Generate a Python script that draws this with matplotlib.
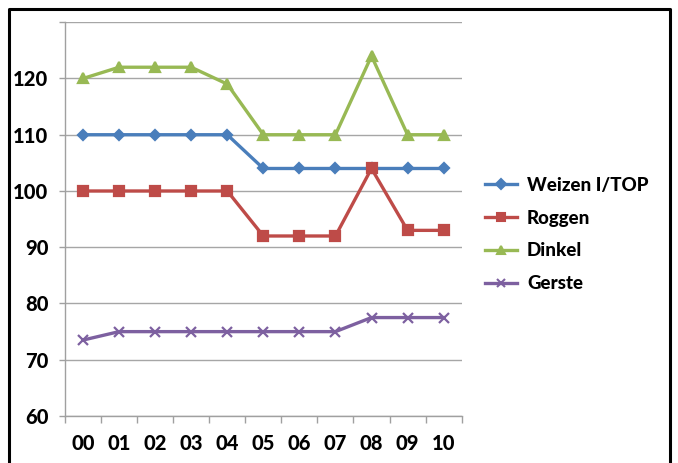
import matplotlib
matplotlib.use("Agg")
import matplotlib.pyplot as plt
from matplotlib.lines import Line2D

years = ["00", "01", "02", "03", "04", "05", "06", "07", "08", "09", "10"]
weizen = [110, 110, 110, 110, 110, 104, 104, 104, 104, 104, 104]
roggen = [100, 100, 100, 100, 100, 92, 92, 92, 104, 93, 93]
dinkel = [120, 122, 122, 122, 119, 110, 110, 110, 124, 110, 110]
gerste = [73.5, 75, 75, 75, 75, 75, 75, 75, 77.5, 77.5, 77.5]
series_names = ["Weizen I/TOP", "Roggen", "Dinkel", "Gerste"]
y_ticks = [60, 70, 80, 90, 100, 110, 120]

colors = ["#4A7EBB", "#BE4B48", "#98B954", "#7D60A0"]
markers = ["D", "s", "^", "x"]
msizes = [5.5, 7, 7.5, 7]

label_font = ["Lato", "DejaVu Sans"]
legend_font = ["Lato", "DejaVu Sans"]

fig = plt.figure(figsize=(6.78, 4.63), dpi=100)
ax = fig.add_axes([0.0959, 0.1015, 0.585, 0.8505])

x = list(range(len(years)))
for vals, c, m, ms, name in zip([weizen, roggen, dinkel, gerste], colors, markers, msizes, series_names):
    ax.plot(x, vals, color=c, lw=2.4, marker=m, ms=ms, mec=c, mfc=c, mew=1.6, label=name)

ax.set_xlim(-0.5, len(years) - 0.5)
ax.set_ylim(60, 130)
ax.set_yticks(y_ticks + [130])
ax.set_yticklabels([str(v) for v in y_ticks] + [""])
ax.set_xticks(x)
ax.set_xticklabels(years)
ax.set_xticks([i - 0.5 for i in range(len(years) + 1)], minor=True)
ax.tick_params(axis="x", which="major", length=0, pad=13)
ax.tick_params(axis="x", which="minor", length=5, color="#A0A0A0", width=1)
ax.tick_params(axis="y", length=4, color="#A0A0A0", width=1, pad=8)
for lbl in ax.get_xticklabels() + ax.get_yticklabels():
    lbl.set_fontfamily(label_font)
    lbl.set_fontweight(900)
    lbl.set_fontsize(14.5)

ax.grid(axis="y", color="#A6A6A6", lw=1)
ax.set_axisbelow(True)
for side in ["top", "right"]:
    ax.spines[side].set_visible(False)
for side in ["left", "bottom"]:
    ax.spines[side].set_color("#A0A0A0")
    ax.spines[side].set_linewidth(1)

handles = [Line2D([0], [0], color=c, lw=2.4, marker=m, ms=ms * 0.85, mfc=c, mec=c, mew=1.5)
           for c, m, ms in zip(colors, markers, msizes)]
leg = fig.legend(handles, series_names, loc="upper left", bbox_to_anchor=(0.690, 0.655),
                 frameon=False, handlelength=1.7, labelspacing=0.85, handletextpad=0.55,
                 prop={"family": legend_font, "weight": 900, "size": 13.5})

# frame around the whole figure (open at the bottom)
fig.add_artist(Line2D([0.0133, 0.0133, 0.988, 0.988], [0.0, 0.98, 0.98, 0.0],
                      transform=fig.transFigure, color="black", lw=2.2))

fig.savefig("out.png", dpi=100)
